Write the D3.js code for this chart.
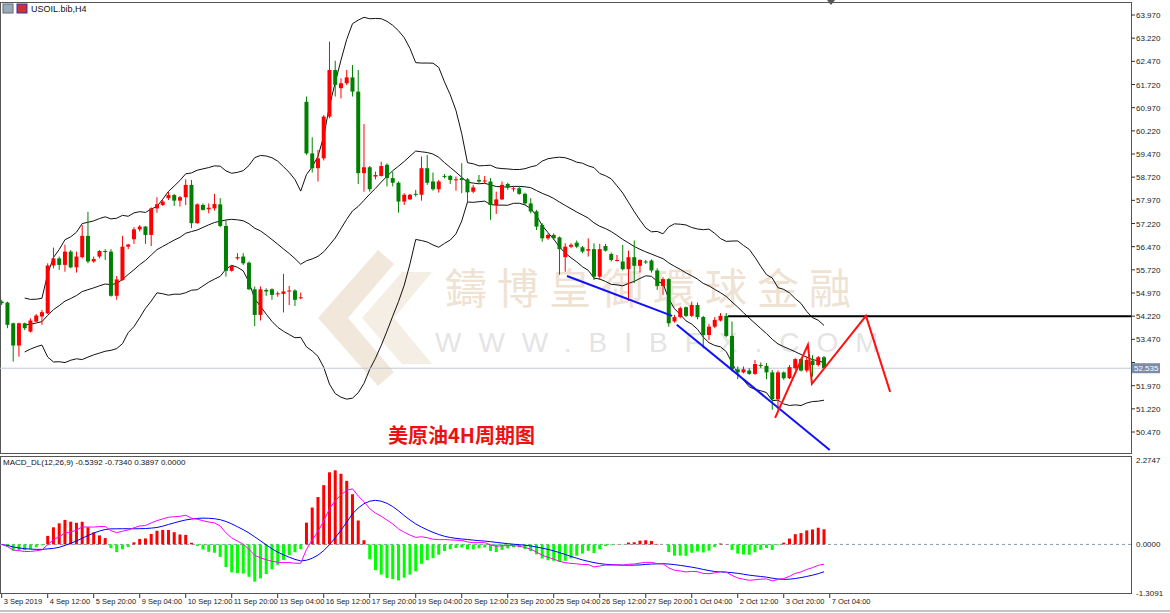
<!DOCTYPE html>
<html><head><meta charset="utf-8">
<script src="https://cdn.jsdelivr.net/npm/d3@7"></script>
<style>body{margin:0;background:#fff}svg{display:block;font-family:"Liberation Sans",Arial,sans-serif}</style>
</head><body><svg id="c" width="1170" height="613"></svg>
<script>
const opens=[54.69,54.66,53.99,53.27,53.99,53.72,54.04,54.21,54.31,55.86,56.09,55.88,56.31,55.80,56.13,56.82,55.99,56.15,56.33,56.31,54.88,55.39,56.47,56.71,57.03,57.12,56.85,57.71,57.82,58.04,58.14,57.96,58.07,58.47,57.23,57.82,57.68,57.71,57.84,57.14,55.69,56.09,56.15,55.95,55.09,54.26,55.07,55.09,54.93,54.94,55.02,55.05,54.80,
61.16,59.49,59.01,59.33,60.68,62.19,61.60,61.76,61.95,61.49,58.85,59.04,58.74,58.76,59.12,58.69,58.54,57.93,58.00,58.18,58.15,59.01,58.58,58.33,58.76,58.76,58.63,58.69,58.65,58.25,58.63,58.58,58.58,57.82,58.00,58.50,58.33,58.36,58.18,
57.87,57.61,57.17,56.74,56.85,56.77,56.13,56.47,56.60,56.45,56.34,56.39,55.50,56.49,56.23,56.02,55.99,55.74,56.13,55.85,55.99,56.02,55.70,55.20,55.42,54.05,54.19,54.51,54.23,54.58,54.19,53.61,53.88,54.08,54.23,53.58,52.50,52.40,52.46,52.35,52.64,52.61,52.40,51.53,52.40,52.21,52.54,52.83,52.46,52.78,52.64,52.89];
const closes=[54.64,53.94,53.27,53.99,53.83,54.08,54.24,54.35,55.86,56.09,55.88,56.31,55.80,56.15,56.82,55.99,56.07,56.33,56.31,54.88,55.41,56.47,56.54,57.03,57.12,56.85,57.71,57.84,57.93,58.14,57.96,58.07,58.47,57.23,57.84,57.66,57.73,57.85,57.14,55.69,55.85,56.13,55.93,55.09,54.26,55.09,55.02,54.91,54.96,55.02,55.05,54.75,54.83,
59.49,59.01,59.33,60.68,62.19,61.71,61.76,61.95,61.49,58.85,59.04,58.33,58.79,59.08,58.69,58.54,57.93,58.15,58.15,58.15,59.01,58.54,58.33,58.58,58.74,58.63,58.65,58.63,58.23,58.39,58.58,58.61,57.82,58.00,58.47,58.39,58.36,58.18,57.87,
57.61,57.12,56.74,56.85,56.74,56.39,56.47,56.53,56.47,56.31,56.39,55.50,56.39,56.34,56.04,56.04,55.74,56.13,55.85,56.04,55.96,55.70,55.20,55.42,53.99,54.19,54.48,54.23,54.58,54.19,53.61,53.88,54.10,54.23,53.58,52.50,52.40,52.50,52.35,52.67,52.61,52.40,51.53,52.40,52.21,52.57,52.83,52.46,52.80,52.64,52.89,52.54];
const highs=[54.75,54.69,54.01,54.01,54.01,54.15,54.29,54.42,55.93,56.44,56.15,56.53,56.36,56.31,57.17,57.60,56.15,56.36,56.39,56.39,55.52,56.82,56.56,57.10,57.17,57.14,57.74,58.07,57.98,58.25,58.18,58.11,58.65,58.63,57.87,57.87,57.87,58.18,58.04,57.33,55.88,56.26,56.26,55.99,55.18,55.18,55.12,55.12,55.02,55.59,55.20,55.09,54.98,
61.33,60.01,59.60,60.73,63.11,62.49,61.92,62.19,62.35,62.19,60.44,59.08,58.90,59.22,59.17,58.90,58.58,58.20,58.18,58.31,59.39,59.44,58.87,58.63,58.82,58.79,58.74,59.17,58.69,58.47,58.79,58.76,58.69,58.25,58.58,58.54,58.44,58.41,58.22,
58.04,57.66,57.23,56.90,56.90,56.80,56.58,56.58,56.67,56.49,56.74,56.58,56.56,56.56,56.28,56.20,56.53,56.34,56.67,56.06,56.04,56.06,55.77,55.48,55.45,54.26,54.53,54.53,54.69,54.66,54.23,53.97,54.19,54.32,54.32,54.05,52.59,52.59,52.54,52.80,52.72,52.70,52.48,52.46,52.43,52.64,52.86,52.86,52.91,52.96,52.93,52.93];
const lows=[54.58,53.83,52.75,52.91,53.77,53.69,54.04,53.94,54.29,55.77,55.72,55.66,55.77,55.63,56.09,55.93,55.95,56.09,56.04,54.85,54.75,55.37,56.39,56.56,56.96,56.56,56.49,57.57,57.79,57.98,57.79,57.77,57.82,57.07,57.21,57.64,57.55,57.64,57.10,55.50,55.66,56.04,55.88,55.07,53.90,54.08,54.88,54.75,54.85,54.34,54.58,54.55,54.77,
59.44,58.87,58.58,59.26,60.63,61.33,61.27,61.70,61.33,58.50,58.25,58.25,58.65,58.74,58.42,58.42,57.57,57.82,57.98,58.09,57.96,58.47,58.28,58.22,58.68,58.50,58.28,58.20,57.87,58.20,58.50,58.50,57.34,57.53,57.98,58.31,58.25,58.15,57.82,
57.55,57.01,56.63,56.69,56.69,55.56,55.66,56.42,56.42,56.26,56.15,55.39,55.39,56.31,55.99,55.99,55.70,54.72,55.29,55.63,55.91,55.63,55.07,54.91,53.88,54.01,54.15,54.19,54.19,54.12,53.18,53.45,53.83,54.05,53.54,52.43,52.18,52.37,52.32,52.32,52.54,52.18,51.19,51.19,52.16,52.18,52.48,52.43,52.40,52.26,52.59,52.50];
const priceTicks=[63.97,63.22,62.47,61.72,60.97,60.22,59.47,58.72,57.97,57.22,56.47,55.72,54.97,54.22,53.47,52.72,51.97,51.22,50.47];
const dateLabels=["3 Sep 2019","4 Sep 12:00","5 Sep 20:00","9 Sep 04:00","10 Sep 12:00","11 Sep 20:00","13 Sep 04:00","16 Sep 12:00","17 Sep 20:00","19 Sep 04:00","20 Sep 12:00","23 Sep 20:00","25 Sep 04:00","26 Sep 12:00","27 Sep 20:00","1 Oct 04:00","2 Oct 12:00","3 Oct 20:00","7 Oct 04:00"];
const currentPrice=52.535, resistance=54.22, resistanceStart=126.3;
const blueLines=[[[98.3,55.52],[116.6,54.23]],[[117.4,53.94],[144,49.89]]];
const redPath=[[134.5,50.93],[140.2,53.29],[140.9,52.03],[150.3,54.23],[154.5,51.77]];

const svg=d3.select("#c");
const x=d3.scaleLinear().domain([0,143]).range([1.7,824]);
const y=d3.scaleLinear().domain([63.97,50.47]).range([15,432]);
const ym=d3.scaleLinear().domain([2.2747,-1.3091]).range([460,593]);
const R=1131;
svg.append("rect").attr("x",0.5).attr("y",2.5).attr("width",R).attr("height",451).attr("fill","none").attr("stroke","#555");
svg.append("rect").attr("x",0.5).attr("y",456.5).attr("width",R).attr("height",137).attr("fill","none").attr("stroke","#555");
svg.append("line").attr("x1",0).attr("x2",1170).attr("y1",611).attr("y2",611).attr("stroke","#888");

// watermark
const wm=svg.append("g").attr("opacity",0.45);
wm.append("path").attr("d","M318,318 L378,250 L394,264 L348,318 L394,372 L378,386 Z").attr("fill","#e2cdb0");
wm.append("path").attr("d","M362,318 L402,272 L432,272 L394,318 L432,364 L402,364 Z").attr("fill","#eadbc6");
wm.append("text").attr("x",445).attr("y",304).attr("font-size",42).attr("fill","#dcc1a0").attr("letter-spacing",10).attr("font-family","Noto Sans CJK TC").text("鑄博皇御環球金融");
wm.append("text").attr("x",435).attr("y",352).attr("font-size",28).attr("fill","#c4c4c4").attr("letter-spacing",17).text("WWW.BIBFX.COM");

priceTicks.forEach(p=>{
  svg.append("line").attr("x1",R).attr("x2",R+4).attr("y1",y(p)).attr("y2",y(p)).attr("stroke","#333");
  if(Math.abs(y(p)-y(currentPrice))>7) svg.append("text").attr("x",R+5).attr("y",y(p)+3).attr("font-size",8).attr("fill","#222").text(p.toFixed(3));
});
[[2.2747,"2.2747"],[0,"0.0000"],[-1.3091,"-1.3091"]].forEach(([v,t])=>{
  svg.append("text").attr("x",R+5).attr("y",ym(v)+3).attr("font-size",8).attr("fill","#222").text(t);
});
dateLabels.forEach((t,k)=>{
  const xx=x(k*8);
  svg.append("line").attr("x1",xx).attr("x2",xx).attr("y1",594).attr("y2",598).attr("stroke","#333");
  svg.append("text").attr("x",xx+2).attr("y",604).attr("font-size",7.5).attr("fill","#222").text(t);
});

const bb=closes.map((c,i)=>{
  const w=closes.slice(Math.max(0,i-19),i+1); const m=d3.mean(w); const s=Math.sqrt(d3.mean(w,v=>(v-m)**2));
  return {i,m,u:m+2*s,l:m-2*s};
}).filter(d=>d.i>=4);
["u","m","l"].forEach(k=>svg.append("path").datum(bb).attr("fill","none").attr("stroke","#111").attr("stroke-width",1)
  .attr("d",d3.line().x(d=>x(d.i)).y(d=>y(d[k]))));

svg.append("line").attr("x1",0).attr("x2",R).attr("y1",y(currentPrice)).attr("y2",y(currentPrice)).attr("stroke","#c0c8d0");
svg.append("line").attr("x1",x(resistanceStart)).attr("x2",R).attr("y1",y(resistance)).attr("y2",y(resistance)).attr("stroke","#000").attr("stroke-width",2);
svg.append("rect").attr("x",R+1).attr("y",y(currentPrice)-5).attr("width",28).attr("height",10).attr("fill","#7a8ca8");
svg.append("text").attr("x",R+3).attr("y",y(currentPrice)+3).attr("font-size",8).attr("fill","#fff").text(currentPrice.toFixed(3));

const g=svg.append("g");
closes.forEach((c,i)=>{
  const o=opens[i], col=c>=o?"#ff0000":"#008000";
  g.append("line").attr("x1",x(i)).attr("x2",x(i)).attr("y1",y(highs[i])).attr("y2",y(lows[i])).attr("stroke",col);
  const t=Math.min(y(o),y(c)), h=Math.max(1,Math.abs(y(o)-y(c)));
  g.append("rect").attr("x",x(i)-2).attr("y",t).attr("width",4).attr("height",h).attr("fill",col);
});

blueLines.forEach(l=>svg.append("path").attr("d",d3.line().x(d=>x(d[0])).y(d=>y(d[1]))(l)).attr("stroke","#1010ff").attr("stroke-width",2).attr("fill","none"));
svg.append("path").attr("d",d3.line().x(d=>x(d[0])).y(d=>y(d[1]))(redPath)).attr("stroke","#ff1010").attr("stroke-width",2).attr("fill","none");
svg.append("path").attr("d","M827,0 L835,0 L831,5 Z").attr("fill","#555");

function ema(a,n){const k=2/(n+1);let e=a[0];return a.map(v=>e=v*k+e*(1-k));}
const e12=ema(closes,12), e26=ema(closes,26);
const macd=e12.map((v,i)=>v-e26[i]);
const sig=macd.map((v,i)=>d3.mean(macd.slice(Math.max(0,i-8),i+1)));
const hist=macd.map((v,i)=>2*(v-sig[i]));
svg.append("line").attr("x1",0).attr("x2",R).attr("y1",ym(0)).attr("y2",ym(0)).attr("stroke","#8899aa").attr("stroke-dasharray","3,3");
hist.forEach((h,i)=>svg.append("rect").attr("x",x(i)-1.5).attr("width",3).attr("y",Math.min(ym(0),ym(h))).attr("height",Math.abs(ym(h)-ym(0))).attr("fill",h>=0?"#ff0000":"#00ff00"));
svg.append("path").datum(sig).attr("fill","none").attr("stroke","#0000ff").attr("d",d3.line().x((d,i)=>x(i)).y(d=>ym(d)));
svg.append("path").datum(macd).attr("fill","none").attr("stroke","#ff00ff").attr("d",d3.line().x((d,i)=>x(i)).y(d=>ym(d)));

svg.append("rect").attr("x",3).attr("y",4).attr("width",10).attr("height",9).attr("fill","#9ab").attr("stroke","#667");
svg.append("rect").attr("x",17).attr("y",4).attr("width",10).attr("height",9).attr("fill","#c33").attr("stroke","#33a");
svg.append("text").attr("x",31).attr("y",12).attr("font-size",9).attr("fill","#111").text("USOIL.bib,H4");
svg.append("text").attr("x",3).attr("y",465).attr("font-size",8).attr("fill","#111").text("MACD_DL(12,26,9) -0.5392 -0.7340 0.3897 0.0000");
svg.append("text").attr("x",388).attr("y",443).attr("font-size",20).attr("font-weight","bold").attr("fill","#ee1111").attr("font-family","Noto Sans CJK SC").text("美原油4H周期图");
</script></body></html>
